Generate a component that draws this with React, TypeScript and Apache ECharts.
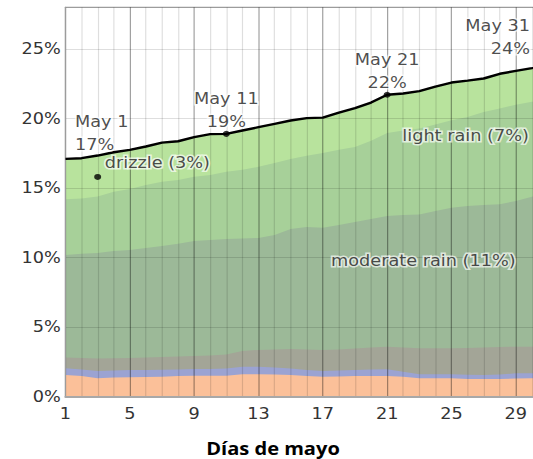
import React, { useEffect, useRef } from "react";
import * as echarts from "echarts";

// ---------- data ----------
const days = [
  "1", "2", "3", "4", "5", "6", "7", "8", "9", "10",
  "11", "12", "13", "14", "15", "16", "17", "18", "19", "20",
  "21", "22", "23", "24", "25", "26", "27", "28", "29", "30", "31",
];

// cumulative chance (%) – top edge of each coloured band, bottom band first
const layer1Top = [
  1.56, 1.49, 1.32, 1.38, 1.4, 1.42, 1.44, 1.49, 1.51, 1.51,
  1.51, 1.61, 1.61, 1.6, 1.56, 1.49, 1.44, 1.45, 1.49, 1.49,
  1.49, 1.44, 1.32, 1.32, 1.32, 1.27, 1.27, 1.27, 1.31, 1.32, 1.32,
];
const layer2Top = [
  2.04, 1.96, 1.85, 1.88, 1.92, 1.92, 1.94, 1.96, 1.99, 1.99,
  2.03, 2.16, 2.16, 2.1, 2.03, 1.92, 1.85, 1.88, 1.92, 1.96,
  1.97, 1.8, 1.61, 1.61, 1.61, 1.58, 1.56, 1.6, 1.68, 1.68, 1.68,
];
const layer3Top = [
  2.81, 2.78, 2.75, 2.76, 2.78, 2.82, 2.86, 2.89, 2.93, 2.96,
  3.04, 3.29, 3.36, 3.4, 3.43, 3.4, 3.36, 3.4, 3.47, 3.54,
  3.6, 3.54, 3.48, 3.48, 3.48, 3.5, 3.54, 3.58, 3.6, 3.6, 3.61,
];
const moderateRainTop = [
  10.19, 10.27, 10.34, 10.48, 10.55, 10.7, 10.84, 10.99, 11.2, 11.27,
  11.34, 11.38, 11.42, 11.63, 12.06, 12.21, 12.14, 12.35, 12.57, 12.78,
  13.0, 13.07, 13.11, 13.36, 13.58, 13.72, 13.79, 13.83, 14.08, 14.37, 14.65,
];
const lightRainTop = [
  14.19, 14.26, 14.4, 14.73, 14.94, 15.23, 15.45, 15.59, 15.81, 15.95,
  16.17, 16.31, 16.53, 16.81, 17.1, 17.32, 17.53, 17.75, 17.96, 18.4,
  18.97, 19.15, 19.29, 19.58, 19.87, 20.12, 20.48, 20.73, 20.99, 21.2, 21.42,
];
const totalChance = [
  17.1, 17.15, 17.34, 17.58, 17.75, 17.99, 18.27, 18.37, 18.66, 18.88,
  18.9, 19.14, 19.38, 19.62, 19.86, 20.03, 20.07, 20.43, 20.75, 21.15,
  21.71, 21.8, 21.97, 22.3, 22.59, 22.73, 22.88, 23.22, 23.43, 23.63, 23.86,
];

// annotated days on the total line
const markDays = [1, 11, 21, 31];
const markPercents = [17, 19, 22, 24];

// band labels: text, anchor day, anchor value
const bandLabelTexts = ["drizzle (3%)", "light rain (7%)", "moderate rain (11%)"];
const bandLabelDays = [3, 23, 19];
const bandLabelValues = [15.8, 18.76, 9.74];

const xAxisTitle = "Días de mayo";

// ---------- layout ----------
const SX = 1.18; // the reference picture is stretched horizontally
const CHART_W = 452;
const CHART_H = 459;
const px = (refX: number) => refX / SX;

const FONT = "DejaVu Sans";

const area = (name: string, data: number[], color: string) => ({
  name,
  type: "line",
  data,
  symbol: "none",
  lineStyle: { width: 0 },
  areaStyle: { color, opacity: 1 },
  z: 2,
  silent: true,
});

const labelText = {
  fontFamily: FONT,
  fontSize: 15,
  color: "#1e1e1e",
  lineHeight: 23,
  textBorderColor: "rgba(255,255,255,0.85)",
  textBorderWidth: 3,
};

const markLabelTweaks = [
  { align: "left", offset: [px(9.5), 0], distance: 2.7 },
  { align: "center", offset: [0, 0], distance: -3 },
  { align: "center", offset: [0, 0], distance: -3 },
  { align: "right", offset: [px(-18), 0], distance: 1.3 },
];

const bandLabelTweaks = [
  { position: "right", distance: 3, offset: [0, -13.5] },
  { position: "right", distance: 0, offset: [px(-17), 0] },
  { position: "right", distance: 0, offset: [px(-24), 0] },
];

const option = {
  animation: false,
  grid: {
    left: px(65.5),
    top: 7.3,
    width: px(548) - px(65.5),
    height: 389.4,
    show: true,
    borderColor: "#9c9c9c",
    borderWidth: 1,
    containLabel: false,
    outerBoundsMode: "none",
  },
  xAxis: {
    type: "category",
    data: days,
    boundaryGap: false,
    z: 5,
    axisLine: { show: true, lineStyle: { color: "#a8a8a8", width: 2 } },
    axisTick: { show: false },
    axisLabel: {
      interval: 3,
      margin: 10,
      fontFamily: FONT,
      fontSize: 15,
      color: "#333",
    },
    splitLine: {
      show: true,
      interval: 0,
      lineStyle: {
        width: 1,
        color: [
          "rgba(0,0,0,0.38)",
          "rgba(0,0,0,0.13)",
          "rgba(0,0,0,0.13)",
          "rgba(0,0,0,0.13)",
        ],
      },
    },
  },
  yAxis: {
    type: "value",
    min: 0,
    max: 28,
    interval: 5,
    z: 5,
    axisLine: { show: true, lineStyle: { color: "#9c9c9c", width: 1 } },
    axisTick: { show: false },
    axisLabel: {
      formatter: "{value}%",
      margin: 4,
      fontFamily: FONT,
      fontSize: 15,
      color: "#333",
      showMaxLabel: false,
    },
    splitLine: { show: true, lineStyle: { color: "rgba(0,0,0,0.13)", width: 1 } },
  },
  series: [
    area("drizzle", totalChance, "#b8e39d"),
    area("light rain", lightRainTop, "#a7d099"),
    area("moderate rain", moderateRainTop, "#9cb998"),
    area("layer 3", layer3Top, "#a3a597"),
    area("layer 2", layer2Top, "#9ba3d2"),
    area("layer 1", layer1Top, "#fbc099"),
    {
      name: "total",
      type: "line",
      data: totalChance,
      symbol: "none",
      lineStyle: { color: "#000", width: 2.4 },
      z: 10,
      silent: true,
    },
    {
      name: "marks",
      type: "scatter",
      z: 11,
      silent: true,
      itemStyle: { color: "#000" },
      data: markDays.map((d, i) => ({
        value: [d - 1, totalChance[d - 1]],
        symbolSize: i === 0 ? 0 : 6,
        label: {
          show: true,
          position: "top",
          formatter: `May ${d}\n${markPercents[i]}%`,
          ...labelText,
          ...markLabelTweaks[i],
        },
      })),
    },
    {
      name: "band labels",
      type: "scatter",
      z: 11,
      silent: true,
      itemStyle: { color: "#000" },
      data: bandLabelTexts.map((t, i) => ({
        value: [bandLabelDays[i] - 1, bandLabelValues[i]],
        symbolSize: i === 0 ? 6 : 0,
        label: {
          show: true,
          formatter: t,
          ...labelText,
          ...bandLabelTweaks[i],
        },
      })),
    },
  ],
  graphic: [
    {
      type: "text",
      x: px(273),
      y: 448,
      z: 20,
      style: {
        text: xAxisTitle,
        font: 'bold 17px "Open Sans"',
        fill: "#000",
        align: "center",
        verticalAlign: "middle",
        textAlign: "center",
        textVerticalAlign: "middle",
      },
    },
  ],
};

export default function App() {
  const ref = useRef<HTMLDivElement>(null);
  useEffect(() => {
    if (!ref.current) return;
    const chart = echarts.init(ref.current, null, { renderer: "svg" });
    chart.setOption(option as any);
    return () => chart.dispose();
  }, []);
  return (
    <div
      style={{
        position: "fixed",
        left: 0,
        top: 0,
        width: 533,
        height: 459,
        overflow: "hidden",
        background: "#fff",
      }}
    >
      <div
        ref={ref}
        style={{
          width: CHART_W,
          height: CHART_H,
          transform: `scaleX(${SX})`,
          transformOrigin: "0 0",
        }}
      />
    </div>
  );
}
